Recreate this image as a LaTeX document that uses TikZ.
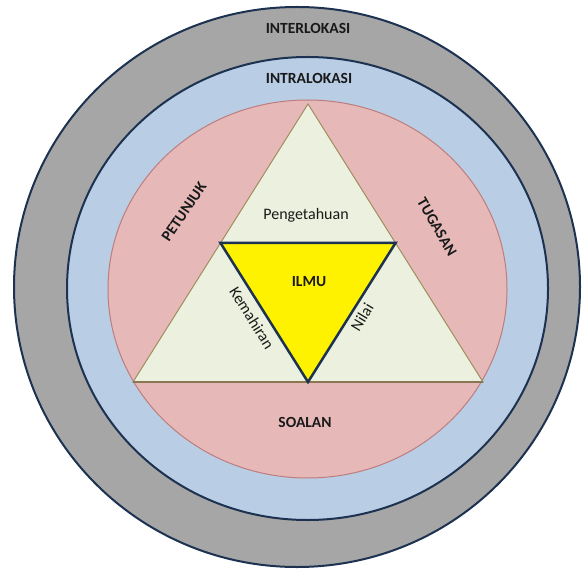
\documentclass[tikz,border=0pt]{standalone}
\usepackage{fontspec}
\usetikzlibrary{calc}
\setmainfont{Carlito}
\definecolor{ringgray}{RGB}{166,166,166}
\definecolor{ringblue}{RGB}{185,205,229}
\definecolor{ringpink}{RGB}{230,185,184}
\definecolor{pinkline}{RGB}{190,125,125}
\definecolor{trifill}{RGB}{235,241,222}
\definecolor{triline}{RGB}{160,140,95}
\definecolor{navy}{RGB}{28,50,80}
\definecolor{txt}{RGB}{25,25,25}
\tikzset{
  lbl/.style={font=\fontsize{15.5}{18}\selectfont\bfseries, text=txt, inner sep=0pt},
  sublbl/.style={font=\fontsize{16}{18}\selectfont, text=txt, inner sep=0pt},
}
\begin{document}
\begin{tikzpicture}[x=1pt,y=-1pt]
\useasboundingbox (0,0) rectangle (583,569);
% rings
\draw[fill=ringgray, draw=navy, line width=2pt] (297,287) ellipse [x radius=283, y radius=280];
\draw[fill=ringblue, draw=navy, line width=2pt] (307.5,288.5) ellipse [x radius=240.5, y radius=231.5];
\draw[fill=ringpink, draw=pinkline, line width=1pt] (307.5,289) ellipse [x radius=199.5, y radius=189];
% outer triangle
\coordinate (A) at (308,104);
\coordinate (B) at (133,382);
\coordinate (C) at (483,382);
\draw[fill=trifill, draw=triline, line width=1pt, line join=miter] (A) -- (B) -- (C) -- cycle;
\draw[draw=triline!85!black, line width=1.6pt] (B) -- (C);
% inner (yellow) triangle
\coordinate (AB) at ($(A)!0.5!(B)$);
\coordinate (AC) at ($(A)!0.5!(C)$);
\coordinate (BC) at ($(B)!0.5!(C)$);
\draw[fill=yellow, draw=navy, line width=2.5pt, line join=miter] (AB) -- (AC) -- (BC) -- cycle;
% labels
\node[lbl] (inter) at (308,28) {INTERLOKASI};
\node[lbl] (intra) at (309,78) {INTRALOKASI};
\node[lbl, rotate=56] (petunjuk) at (184,212) {PETUNJUK};
\node[lbl, rotate=-60] (tugasan) at (437,227) {TUGASAN};
\node[lbl] (soalan) at (305,422) {SOALAN};
\node[sublbl] (peng) at (306,215) {Pengetahuan};
\node[lbl] (ilmu) at (309,282) {ILMU};
\node[sublbl, rotate=-58] (kem) at (252,318) {Kemahiran};
\node[sublbl, rotate=59] (nilai) at (362,317) {Nilai};
\end{tikzpicture}
\end{document}
